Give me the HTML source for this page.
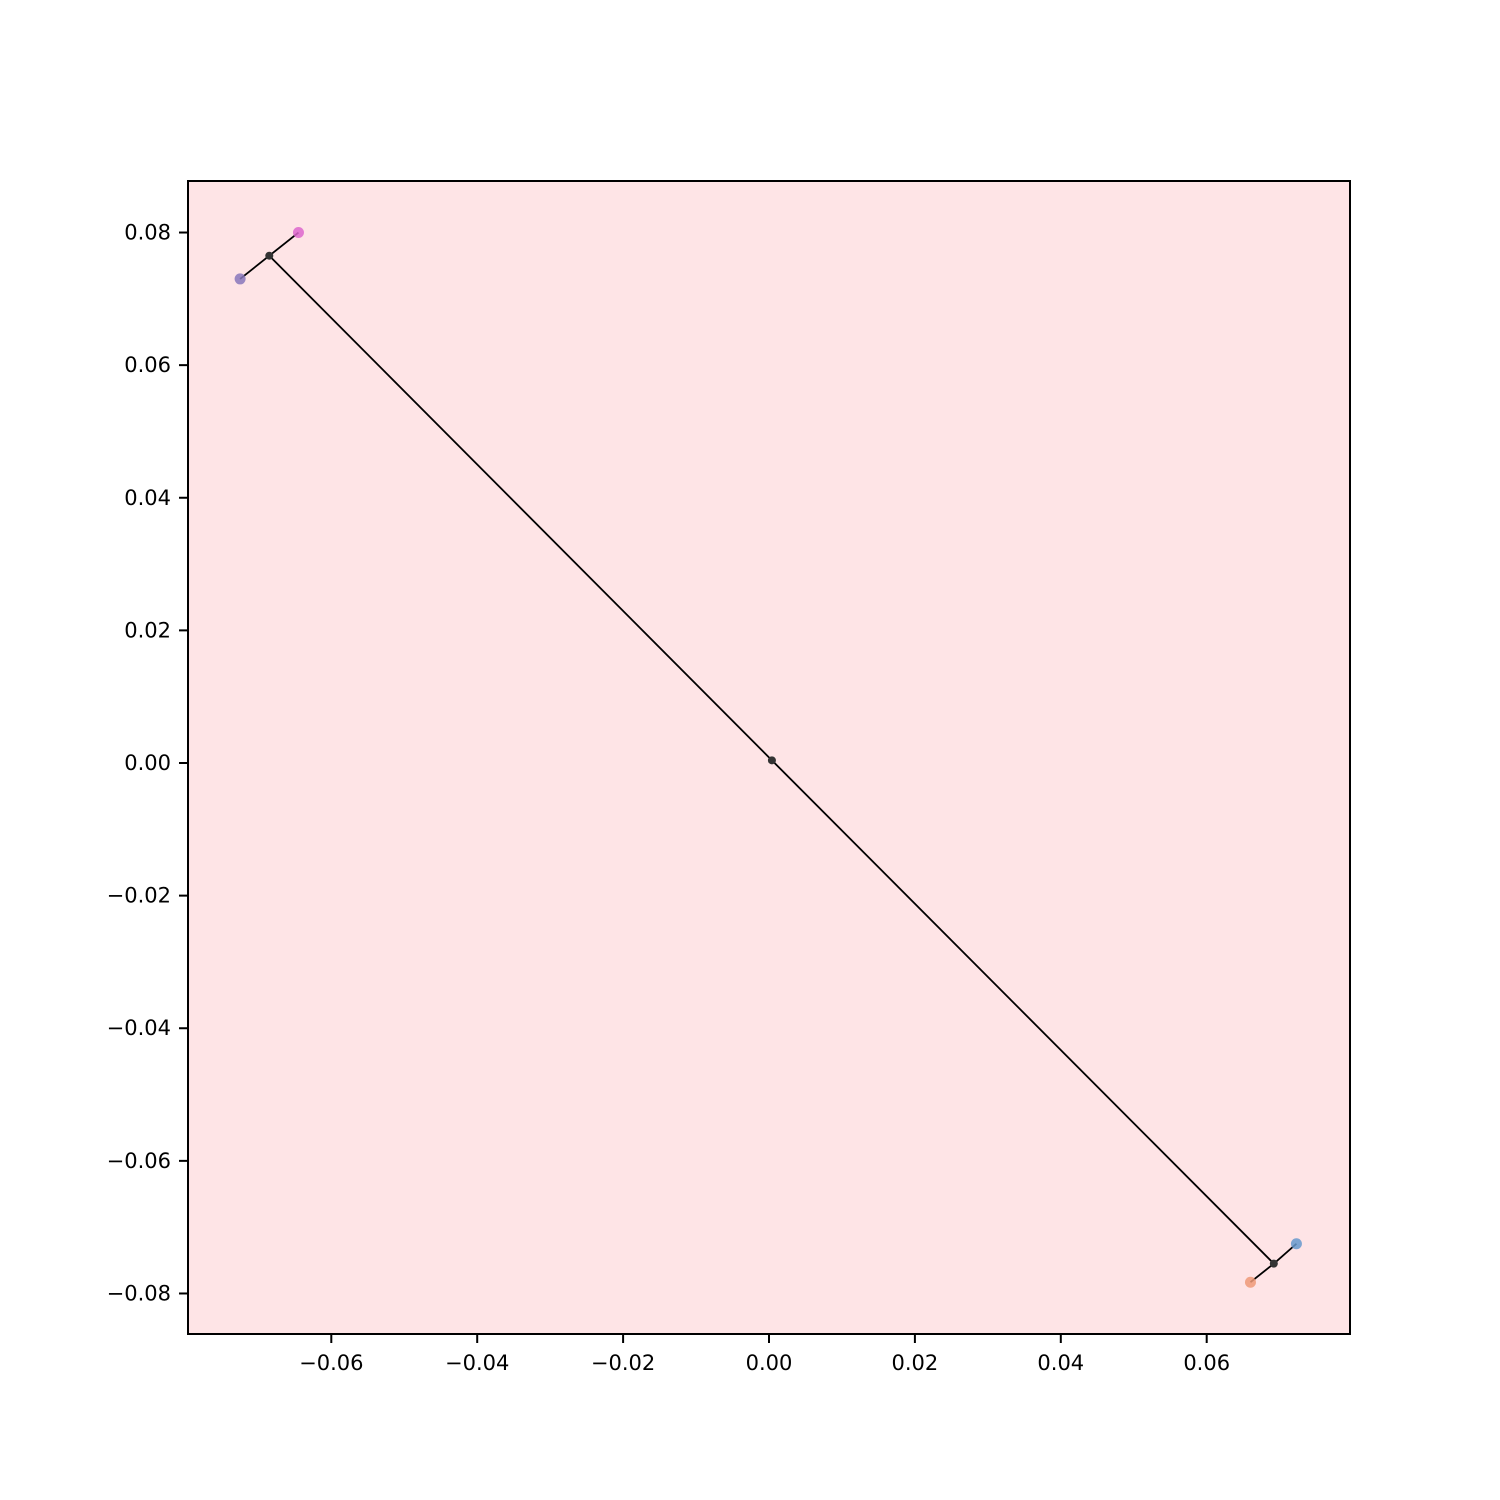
<!DOCTYPE html>
<html><head><meta charset="utf-8"><style>body{margin:0;background:#fff}svg{display:block}text{font-family:"DejaVu Sans","Liberation Sans",sans-serif;font-size:21px}</style></head>
<body>
<svg id="chart" width="1500" height="1500" xmlns="http://www.w3.org/2000/svg">
<rect x="188" y="181" width="1162" height="1153" fill="#fee4e6"/>
<g id="edges"></g><g id="pts"></g>
<rect x="188" y="181" width="1162" height="1153" fill="none" stroke="#000" stroke-width="2"/>
<g id="axes"></g>
</svg>
<script>
const xTicks=[-0.06,-0.04,-0.02,0.00,0.02,0.04,0.06];
const yTicks=[0.08,0.06,0.04,0.02,0.00,-0.02,-0.04,-0.06,-0.08];
const leafX=[-0.0645,-0.0725,0.0723,0.0660];
const leafY=[0.0800,0.0730,-0.0725,-0.0783];
const leafColors=["#dd66cc","#8877bb","#6699cc","#ee9977"];
const nodeX=[-0.0685,0.0004,0.0692];
const nodeY=[0.0765,0.0004,-0.0755];
const edgeFrom=["L0","L1","N0","N2","L2","L3"];
const edgeTo=["N0","N0","N1","N1","N2","N2"];
const sx=v=>769+v*7295, sy=v=>763-v*6631;
const NS="http://www.w3.org/2000/svg";
function mk(t,a,p){const e=document.createElementNS(NS,t);for(const k in a)e.setAttribute(k,a[k]);p.appendChild(e);return e;}
const pos=id=>id[0]=="L"?[leafX[+id.slice(1)],leafY[+id.slice(1)]]:[nodeX[+id.slice(1)],nodeY[+id.slice(1)]];
const E=document.getElementById('edges'),P=document.getElementById('pts'),A=document.getElementById('axes');
edgeFrom.forEach((f,i)=>{const a=pos(f),b=pos(edgeTo[i]);
const l=mk('line',{x1:sx(a[0]),y1:sy(a[1]),x2:sx(b[0]),y2:sy(b[1]),stroke:'#000','stroke-width':1.8},E);

});
leafX.forEach((v,i)=>{const c=mk('circle',{cx:sx(v),cy:sy(leafY[i]),r:5.5,fill:leafColors[i],opacity:0.85},P);

});
nodeX.forEach((v,i)=>{const c=mk('circle',{cx:sx(v),cy:sy(nodeY[i]),r:4,fill:'#333'},P);

});
const fmt=v=>(v<0?'\u2212':'')+Math.abs(v).toFixed(2);
xTicks.forEach(v=>{const x=sx(v);mk('line',{x1:x,y1:1334,x2:x,y2:1343,stroke:'#000','stroke-width':2},A);
const t=mk('text',{x:x,y:1370,'text-anchor':'middle'},A);t.textContent=fmt(v);

});
yTicks.forEach(v=>{const y=sy(v);mk('line',{x1:179,y1:y,x2:188,y2:y,stroke:'#000','stroke-width':2},A);
const t=mk('text',{x:171,y:y+7,'text-anchor':'end'},A);t.textContent=fmt(v);

});
</script>
</body></html>
